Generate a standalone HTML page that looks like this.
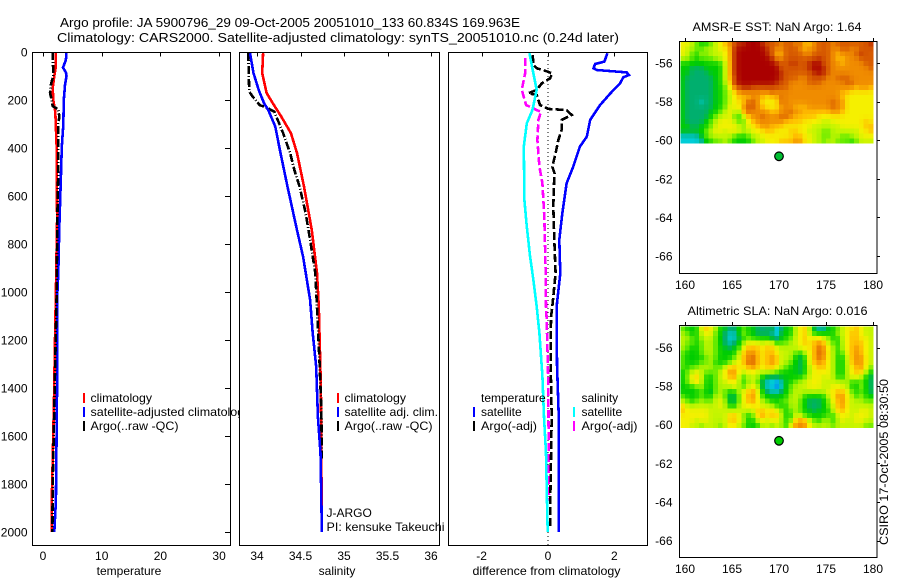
<!DOCTYPE html>
<html>
<head>
<meta charset="utf-8">
<title>Argo profile</title>
<style>
html,body{margin:0;padding:0;background:#fff;}
svg{display:block;}
text{font-family:"Liberation Sans",sans-serif;font-size:12px;fill:#000;}
.frame{fill:none;stroke:#000;stroke-width:1;shape-rendering:crispEdges;}
.tick{stroke:#000;stroke-width:1;shape-rendering:crispEdges;}
.bg{fill:#fff;stroke:none;}
.ln{fill:none;shape-rendering:crispEdges;stroke-linejoin:miter;}
.mk{stroke-width:2;shape-rendering:crispEdges;}
</style>
</head>
<body>
<svg id="chart" xmlns="http://www.w3.org/2000/svg" width="900" height="580" viewBox="0 0 900 580">
  <rect x="0" y="0" width="900" height="580" fill="#fff"/>
  <text x="60" y="27" style="font-size:13.3px" textLength="460" lengthAdjust="spacingAndGlyphs">Argo profile: JA 5900796_29 09-Oct-2005 20051010_133 60.834S 169.963E</text>
  <text x="57" y="42" style="font-size:13.3px" textLength="562" lengthAdjust="spacingAndGlyphs">Climatology: CARS2000. Satellite-adjusted climatology: synTS_20051010.nc (0.24d later)</text>

  <g id="p1">
    <rect class="bg" x="32.5" y="52.5" width="198" height="493"/>
    <g id="p1-lines"></g>
    <g id="p1-axes"></g>
    <rect class="frame" x="32.5" y="52.5" width="198" height="493"/>
    <text x="129" y="575" text-anchor="middle">temperature</text>
    <line class="mk" x1="84" x2="84" y1="393" y2="403" stroke="#ff0000"/>
    <line class="mk" x1="84" x2="84" y1="407" y2="417" stroke="#0000ff"/>
    <line class="mk" x1="84" x2="84" y1="421" y2="431" stroke="#000"/>
    <text x="90.5" y="402" textLength="61.5" lengthAdjust="spacingAndGlyphs">climatology</text>
    <text x="90.5" y="416" textLength="160" lengthAdjust="spacingAndGlyphs">satellite-adjusted climatology</text>
    <text x="90.5" y="430" textLength="88" lengthAdjust="spacingAndGlyphs">Argo(..raw -QC)</text>
  </g>

  <g id="p2">
    <rect class="bg" x="239.5" y="52.5" width="200" height="493"/>
    <g id="p2-lines"></g>
    <g id="p2-axes"></g>
    <rect class="frame" x="239.5" y="52.5" width="200" height="493"/>
    <text x="337" y="575" text-anchor="middle">salinity</text>
    <line class="mk" x1="338" x2="338" y1="393" y2="403" stroke="#ff0000"/>
    <line class="mk" x1="338" x2="338" y1="407" y2="417" stroke="#0000ff"/>
    <line class="mk" x1="338" x2="338" y1="421" y2="431" stroke="#000"/>
    <text x="344.5" y="402" textLength="61.5" lengthAdjust="spacingAndGlyphs">climatology</text>
    <text x="344.5" y="416" textLength="93.5" lengthAdjust="spacingAndGlyphs">satellite adj. clim.</text>
    <text x="344.5" y="430" textLength="88" lengthAdjust="spacingAndGlyphs">Argo(..raw -QC)</text>
    <text x="326.5" y="517">J-ARGO</text>
    <text x="326.5" y="531" textLength="118" lengthAdjust="spacingAndGlyphs">PI: kensuke Takeuchi</text>
  </g>

  <g id="p3">
    <rect class="bg" x="448.5" y="52.5" width="199" height="493"/>
    <g id="p3-lines"></g>
    <g id="p3-axes"></g>
    <rect class="frame" x="448.5" y="52.5" width="199" height="493"/>
    <text x="546.5" y="575" text-anchor="middle" textLength="148" lengthAdjust="spacingAndGlyphs">difference from climatology</text>
    <text x="481" y="402">temperature</text>
    <line class="mk" x1="474" x2="474" y1="407" y2="417" stroke="#0000ff"/>
    <text x="481" y="416">satellite</text>
    <line class="mk" x1="474" x2="474" y1="421" y2="431" stroke="#000"/>
    <text x="481" y="430" textLength="56" lengthAdjust="spacingAndGlyphs">Argo(-adj)</text>
    <text x="581.5" y="402">salinity</text>
    <line class="mk" x1="574" x2="574" y1="407" y2="417" stroke="#00ffff"/>
    <text x="581.5" y="416">satellite</text>
    <line class="mk" x1="574" x2="574" y1="421" y2="431" stroke="#ff00ff"/>
    <text x="581.5" y="430" textLength="56" lengthAdjust="spacingAndGlyphs">Argo(-adj)</text>
  </g>

  <g id="m1"></g>
  <g id="m2"></g>
  <text x="692.5" y="31" textLength="169" lengthAdjust="spacingAndGlyphs">AMSR-E SST: NaN Argo: 1.64</text>
  <text x="687.5" y="315" textLength="180" lengthAdjust="spacingAndGlyphs">Altimetric SLA: NaN Argo: 0.016</text>
  <text transform="translate(888,545) rotate(-90)" textLength="166" lengthAdjust="spacingAndGlyphs">CSIRO 17-Oct-2005 08:30:50</text>
</svg>
<script>
// ---- axis tick labels ----
const depthTicks = [0,200,400,600,800,1000,1200,1400,1600,1800,2000];
const tempTicks = [0,10,20,30];
const salTicks = [34,34.5,35,35.5,36];
const diffTicks = [-2,0,2];
const lonTicks = [160,165,170,175,180];
const latTicks = [-56,-58,-60,-62,-64,-66];

// ---- temperature profile ----
const tClimDepth = [0,60,100,150,200,250,400,700,1000,1200,1450,1700,1880,2000];
const tClimVal = [2.2,2.2,1.93,1.65,1.75,2.1,2.33,2.4,2.2,2.05,1.87,1.65,1.48,1.48];
const tSatDepth = [0,33,65,85,100,137,200,304,395,520,730,920,1000,1250,1550,1870,2000];
const tSatVal = [4.0,3.9,3.4,3.9,4.0,3.75,3.55,3.45,3.2,3.05,2.78,2.6,2.45,2.45,2.33,2.2,1.93];
const tArgoDepth = [0,100,130,170,200,225,240,270,300,400,500,600,800,1000,1400,1800,2000];
const tArgoVal = [1.65,1.75,1.4,1.2,1.48,1.65,2.6,2.78,2.6,2.6,2.6,2.5,2.4,2.33,2.0,1.65,1.6];

// ---- salinity profile ----
const sClimDepth = [5,88,171,213,270,338,421,561,742,921,1062,1400,2000];
const sClimVal = [34.07,34.06,34.11,34.18,34.28,34.39,34.46,34.54,34.63,34.69,34.71,34.735,34.745];
const sSatDepth = [5,88,158,213,242,311,421,561,742,853,1033,1171,1312,1520,1671,1870,2000];
const sSatVal = [33.92,33.96,34.02,34.08,34.13,34.21,34.27,34.35,34.46,34.53,34.61,34.64,34.68,34.70,34.73,34.74,34.745];
const sArgoDepth = [5,165,186,221,235,249,285,338,421,492,561,672,783,921,1062,1300,1500,1700];
const sArgoVal = [33.90,33.91,33.95,34.03,34.13,34.20,34.24,34.30,34.38,34.43,34.49,34.56,34.61,34.67,34.69,34.72,34.74,34.745];

// ---- difference from climatology ----
const dtSatDepth = [5,40,50,68,75,85,96,105,131,171,221,283,353,394,478,547,672,783,922,1062,1300,1500,2000];
const dtSatVal = [1.79,1.70,1.42,1.37,1.47,2.37,2.44,2.27,2.17,1.89,1.57,1.27,1.17,0.96,0.76,0.56,0.43,0.34,0.37,0.26,0.27,0.32,0.32];
const dtArgoDepth = [12,54,68,78,89,110,131,158,172,179,221,237,242,262,283,325,367,422,478,506,547,644,783,922,1061,1103,1311,1519,1866,1978];
const dtArgoVal = [-0.46,-0.44,-0.34,-0.09,0.13,0.06,-0.19,-0.34,-0.59,-0.34,-0.24,0.01,0.56,0.71,0.41,0.41,0.31,0.23,0.13,0.20,0.18,0.16,0.19,0.23,0.13,0.09,0.08,0.11,0.07,0.06];
const dsSatDepth = [5,89,158,242,297,394,617,728,853,950,1061,1171,1350,1520,1671,1870,2000];
const dsSatVal = [-0.56,-0.44,-0.34,-0.47,-0.64,-0.73,-0.71,-0.64,-0.54,-0.44,-0.34,-0.26,-0.17,-0.12,-0.06,-0.03,-0.01];
const dsArgoDepth = [26,89,158,221,242,249,283,367,478,547,686,922,1061,1116,1380,1870];
const dsArgoVal = [-0.69,-0.69,-0.79,-0.66,-0.34,-0.21,-0.29,-0.32,-0.26,-0.17,-0.11,-0.07,-0.06,-0.04,0.01,0.03];
const zeroLineDepths = [0,2055];
const zeroLineValue = [0,0];

// ---- map grids (colour level 0 blue ... 11 dark red) ----
const sstGrid = [
[6,6,5,4,3,3,4,5,6,7,8,9,10,10,11,11,11,10,9,9,9,8,9,9,8,9,7,7,8,9,9,9,8,9,9,9,9,9,9,9,10],
[6,5,5,4,4,5,5,5,6,6,7,10,11,11,11,11,11,11,10,9,8,8,9,9,9,8,7,8,8,9,9,9,8,8,9,9,8,8,9,9,9],
[6,5,4,3,5,4,5,5,5,6,7,10,11,11,11,11,11,11,10,9,7,7,9,9,9,9,8,8,9,9,9,9,8,7,8,8,8,9,10,9,9],
[5,5,4,3,4,4,4,5,5,6,7,10,11,11,11,11,11,11,11,10,8,8,9,9,9,9,9,9,9,10,9,9,8,7,7,8,8,8,9,9,9],
[3,3,3,3,3,3,3,3,3,5,7,10,11,11,11,11,11,11,11,11,10,9,9,10,10,9,9,10,11,11,9,9,8,8,7,8,8,8,8,9,9],
[3,3,2,2,2,3,3,3,3,5,7,10,11,11,11,11,11,11,11,11,11,9,9,9,9,9,9,10,11,11,10,9,8,8,8,8,8,8,8,8,9],
[3,3,2,2,2,2,3,3,3,5,7,10,11,11,11,11,11,11,11,11,11,10,9,9,9,9,9,9,10,11,10,9,8,8,8,8,8,8,8,8,8],
[3,2,2,2,2,2,2,3,3,5,7,9,11,11,11,11,11,11,11,11,11,10,9,9,9,8,8,9,9,9,9,8,8,9,9,9,8,8,8,8,8],
[3,2,2,2,2,2,2,3,3,5,6,10,11,11,11,11,11,11,11,11,10,9,9,8,8,8,8,9,9,9,8,8,8,8,8,9,9,8,8,8,8],
[3,2,2,2,2,2,2,3,3,4,6,8,9,10,10,9,9,9,9,9,9,9,9,8,8,8,8,8,8,8,8,8,8,8,8,8,8,7,8,8,7],
[3,2,2,2,2,2,2,3,3,4,5,6,8,8,8,8,8,8,8,9,8,8,8,8,8,8,8,8,8,8,8,8,8,8,7,7,6,6,6,6,6],
[3,2,2,2,2,2,2,3,3,4,5,6,7,7,7,8,8,7,6,7,7,9,8,8,8,8,8,8,8,8,8,8,8,8,7,6,6,6,6,6,6],
[3,2,2,2,1,2,2,3,3,4,5,6,6,7,9,9,8,6,6,6,6,9,8,8,8,8,8,8,8,8,8,8,9,8,8,6,6,6,6,6,6],
[3,2,2,2,2,2,2,3,3,4,6,6,6,8,9,9,8,7,6,6,6,8,8,8,7,7,7,8,8,8,8,8,9,8,8,6,6,6,6,6,6],
[3,2,2,2,2,2,3,3,4,5,6,5,4,8,9,8,8,8,8,7,7,8,8,9,8,8,7,7,7,7,7,7,8,8,7,6,6,6,6,6,6],
[3,2,2,2,2,2,3,4,5,5,6,4,3,5,7,8,8,9,8,8,8,9,9,8,7,7,7,7,7,6,6,6,6,6,6,6,6,6,6,6,6],
[3,2,2,2,2,3,4,5,6,6,6,5,4,4,6,7,8,8,8,8,8,8,7,7,7,7,6,6,6,6,5,5,6,6,6,6,6,6,6,7,6],
[3,3,2,2,3,3,4,5,6,6,6,6,5,4,6,6,7,8,8,7,7,7,6,6,6,6,6,6,5,5,5,5,5,5,6,6,6,6,6,7,7],
[3,3,3,3,3,4,5,6,6,5,6,6,6,5,5,6,6,6,7,7,6,6,6,7,7,6,6,5,5,5,4,4,5,5,5,5,5,5,6,6,7],
[1,1,1,1,3,4,5,5,5,5,5,4,3,3,4,5,5,6,6,6,6,6,6,6,7,7,6,6,5,5,4,4,5,5,4,4,5,5,6,6,6],
[1,1,1,1,1,3,3,4,4,5,4,3,3,3,3,4,5,5,6,6,6,7,7,7,8,8,6,6,5,5,4,5,5,4,4,4,3,4,5,5,5]
];
const slaGrid = [
[4,3,3,3,6,7,6,5,3,3,2,2,3,4,3,3,2,2,2,3,0,2,3,3,5,6,7,5,2,1,1,3,3,4,5,6,6,7,6,5,5],
[5,4,3,3,5,6,6,4,3,2,1,1,3,5,3,3,2,2,2,2,0,3,3,3,5,6,7,5,3,3,3,3,3,5,5,6,7,7,6,5,5],
[5,5,4,3,5,5,5,4,3,2,1,1,2,3,4,3,3,3,3,2,1,3,3,4,5,6,7,6,6,7,5,5,3,3,5,6,7,7,6,6,5],
[5,4,4,3,4,5,5,4,3,2,1,2,3,5,6,6,6,5,6,6,3,4,4,5,5,6,7,6,7,8,7,5,4,3,5,6,7,7,7,6,5],
[5,4,3,3,4,5,5,4,3,3,2,3,3,6,7,7,7,6,7,7,6,5,5,5,5,6,6,6,7,9,8,6,5,3,5,6,7,8,7,6,5],
[4,3,3,3,4,5,5,4,3,3,3,3,5,7,8,8,7,6,7,7,6,5,5,5,4,3,5,6,7,9,8,6,5,3,4,6,7,8,7,6,5],
[4,3,3,3,3,4,5,4,3,3,3,4,5,7,8,9,7,6,7,8,7,5,5,5,3,2,3,6,7,9,8,6,5,3,3,5,7,8,8,6,5],
[4,3,3,3,4,4,5,3,3,3,4,5,6,7,9,9,7,6,7,8,7,5,5,4,3,2,3,6,7,8,7,6,5,3,3,5,7,8,8,6,5],
[4,3,4,4,5,5,5,4,4,5,7,7,6,6,7,8,7,6,7,7,6,5,4,3,3,2,3,5,6,7,7,6,5,3,3,5,6,7,8,6,4],
[3,4,5,6,5,4,4,4,5,6,8,8,6,5,6,6,5,5,5,5,4,3,3,3,3,2,3,5,6,6,6,6,5,3,3,5,6,7,7,5,3],
[3,4,6,7,5,3,3,4,5,6,7,8,5,3,5,5,5,3,2,2,2,3,3,3,3,3,4,5,6,6,5,6,5,3,3,5,6,6,5,3,2],
[3,4,6,7,5,3,3,4,5,5,6,6,5,3,5,5,4,2,1,1,0,1,3,3,4,5,5,6,6,6,5,5,5,5,5,5,3,3,4,3,2],
[3,3,3,4,5,3,3,4,5,5,5,6,5,3,5,6,5,2,1,1,0,1,3,4,5,5,5,6,6,6,5,5,6,6,5,5,3,3,5,3,2],
[3,3,3,3,4,3,2,4,5,4,3,3,5,6,7,8,6,3,2,1,1,2,3,4,5,5,5,5,5,5,5,6,6,7,7,6,4,3,4,3,2],
[4,3,3,3,4,3,3,5,5,4,2,2,4,6,7,8,6,3,3,3,3,3,3,5,5,5,3,3,3,3,3,5,6,8,8,6,5,3,5,3,3],
[5,4,3,4,5,4,4,5,6,5,2,2,4,6,7,8,6,5,4,3,3,4,4,5,5,4,3,2,2,2,3,4,6,7,8,6,5,5,5,4,4],
[7,5,5,5,5,5,5,5,6,5,3,3,5,6,6,6,6,5,5,5,3,3,3,5,5,4,3,2,2,2,3,4,5,7,8,6,5,5,5,5,5],
[7,6,6,6,6,6,5,5,5,5,5,5,5,5,5,5,7,7,6,7,6,5,3,4,5,4,3,3,2,3,3,3,5,7,7,6,5,5,6,6,5],
[6,6,6,6,6,6,5,5,5,5,7,7,6,4,3,4,7,8,6,7,7,5,3,3,5,5,3,3,3,3,3,4,3,5,6,6,5,6,6,6,5],
[6,6,6,5,6,6,5,5,5,5,7,7,6,5,3,3,5,6,5,6,6,5,3,4,7,8,8,5,4,3,5,5,3,5,6,5,5,6,6,5,5],
[6,6,5,5,4,5,5,5,4,5,6,6,5,4,3,3,3,5,5,4,5,5,3,6,8,8,8,6,5,5,5,5,4,5,5,5,5,5,5,4,4]
];
const floatLon = [170];
const floatLat = [-60.834];

// ---- axis functions ----
const yDepth = d => 52 + d * 0.24;
const xTemp = v => 43 + v * 5.87;
const xSal = v => 257 + (v - 34) * 87;
const xDiff = v => 548 + v * 33.2;
const xLon = v => 685 + (v - 160) * 9.4;
const SVGNS = 'http://www.w3.org/2000/svg';

function mk(tag, attrs, parent) {
  const el = document.createElementNS(SVGNS, tag);
  for (const k in attrs) el.setAttribute(k, attrs[k]);
  parent.appendChild(el);
  return el;
}
function drawLine(parent, name, depths, values, xf, color, dash, width) {
  const pts = depths.map((d, i) => xf(values[i]).toFixed(1) + ',' + yDepth(d).toFixed(1)).join(' ');
  const el = mk('polyline', {class: 'ln', points: pts, stroke: color, 'stroke-width': width || 2.6}, parent);
  if (dash) el.setAttribute('stroke-dasharray', dash);
  
  
}
function drawTopTicks(parent, ticks, xf, top, len, labelY) {
  ticks.forEach(t => {
    const x = Math.round(xf(t)) + 0.5;
    const l = mk('line', {class: 'tick', x1: x, x2: x, y1: top, y2: top + len}, parent);
    
    
    const s = mk('text', {x: xf(t), y: labelY, 'text-anchor': 'middle'}, parent);
    s.textContent = String(t);
    
    
  });
}

// panel 1
const p1L = document.getElementById('p1-lines');
drawLine(p1L, 'temperature-climatology-line', tClimDepth, tClimVal, xTemp, '#ff0000');
drawLine(p1L, 'temperature-satellite-line', tSatDepth, tSatVal, xTemp, '#0000ff');
drawLine(p1L, 'temperature-argo-line', tArgoDepth, tArgoVal, xTemp, '#000', '8 2 1 2');
const p1A = document.getElementById('p1-axes');
drawTopTicks(p1A, tempTicks, xTemp, 52.5, 4, 560);
depthTicks.forEach(d => {
  const y = Math.round(yDepth(d)) + 0.5;
  const l = mk('line', {class: 'tick', x1: 225, x2: 230.5, y1: y, y2: y}, p1A);
  
  
  const s = mk('text', {x: 27.5, y: yDepth(d) + 4.5, 'text-anchor': 'end'}, p1A);
  s.textContent = String(d);
  
  
});

// panel 2
const p2L = document.getElementById('p2-lines');
drawLine(p2L, 'salinity-climatology-line', sClimDepth, sClimVal, xSal, '#ff0000');
drawLine(p2L, 'salinity-argo-line', sArgoDepth, sArgoVal, xSal, '#000', '8 2 1 2');
drawLine(p2L, 'salinity-satellite-line', sSatDepth, sSatVal, xSal, '#0000ff');
drawTopTicks(document.getElementById('p2-axes'), salTicks, xSal, 52.5, 4, 560);

// panel 3
const p3L = document.getElementById('p3-lines');
drawLine(p3L, 'zero-reference-line', zeroLineDepths, zeroLineValue, xDiff, '#000', '1 3', 1);
drawLine(p3L, 'temperature-satellite-difference-line', dtSatDepth, dtSatVal, xDiff, '#0000ff');
drawLine(p3L, 'salinity-argo-difference-line', dsArgoDepth, dsArgoVal, xDiff, '#ff00ff', '8 3');
drawLine(p3L, 'temperature-argo-difference-line', dtArgoDepth, dtArgoVal, xDiff, '#000', '8 3');
drawLine(p3L, 'salinity-satellite-difference-line', dsSatDepth, dsSatVal, xDiff, '#00ffff');
drawTopTicks(document.getElementById('p3-axes'), diffTicks, xDiff, 52.5, 4, 560);

// maps
const levelRGB = [[0,110,255],[0,205,215],[0,175,110],[0,205,0],[100,235,0],[195,245,0],[245,240,0],[255,190,0],[240,140,0],[215,90,0],[190,45,0],[170,0,0]];
function softLevel(grid, r, c) {
  // the shaded image blends each grid value slightly with its neighbours
  let sum = 0, weight = 0;
  for (let dr = -1; dr <= 1; dr++) {
    for (let dc = -1; dc <= 1; dc++) {
      const row = grid[r + dr];
      if (!row || row[c + dc] === undefined) continue;
      const w = dr === 0 && dc === 0 ? 8 : (dr === 0 || dc === 0 ? 2 : 1);
      sum += row[c + dc] * w;
      weight += w;
    }
  }
  return sum / weight;
}
function levelColor(v) {
  const i = Math.min(Math.floor(v), levelRGB.length - 2);
  const f = v - i;
  const a = levelRGB[i], b = levelRGB[i + 1];
  return 'rgb(' + a.map((ch, k) => Math.round(ch + (b[k] - ch) * f)).join(',') + ')';
}
function drawMap(groupId, prefix, grid, top, bottom, labelY, latOrigin, dotFill) {
  const g = document.getElementById(groupId);
  const yLat = v => latOrigin + (-56 - v) * 19.3;
  const lonStart = 159.5, lonStep = 0.5, latStart = -54.9, latStep = -0.25;
  const cells = mk('g', {'shape-rendering': 'crispEdges'}, g);
  
  
  grid.forEach((row, r) => {
    row.forEach((v, c) => {
      const x0 = xLon(lonStart + c * lonStep), x1 = xLon(lonStart + (c + 1) * lonStep);
      const y0 = yLat(latStart + r * latStep), y1 = yLat(latStart + (r + 1) * latStep);
      const rect = mk('rect', {x: x0.toFixed(2), y: y0.toFixed(2), width: (x1 - x0 + 0.3).toFixed(2), height: (y1 - y0 + 0.3).toFixed(2), fill: levelColor(softLevel(grid, r, c))}, cells);
      
      
    });
  });
  const frame = mk('rect', {class: 'frame', x: 679.5, y: top + 0.5, width: 197.5, height: bottom - top}, g);
  
  
  lonTicks.forEach(t => {
    const x = Math.round(xLon(t)) + 0.5;
    const l = mk('line', {class: 'tick', x1: x, x2: x, y1: top - 3, y2: top}, g);
    
    
    const s = mk('text', {x: xLon(t), y: labelY, 'text-anchor': 'middle'}, g);
    s.textContent = String(t);
    
    
  });
  latTicks.forEach(t => {
    const y = Math.round(yLat(t)) + 0.5;
    const l = mk('line', {class: 'tick', x1: 877, x2: 880, y1: y, y2: y}, g);
    
    
    const s = mk('text', {x: 672.5, y: yLat(t) + 4.5, 'text-anchor': 'end'}, g);
    s.textContent = String(t);
    
    
  });
  const dot = mk('circle', {cx: xLon(floatLon[0]), cy: yLat(floatLat[0]), r: 4.3, fill: dotFill, stroke: '#000', 'stroke-width': 1.2}, g);
  
  
}
drawMap('m1', 'sst-map', sstGrid, 41, 273, 289, 63, '#00be32');
drawMap('m2', 'sla-map', slaGrid, 325, 557, 573, 347.5, '#00cd00');
</script>
</body>
</html>
